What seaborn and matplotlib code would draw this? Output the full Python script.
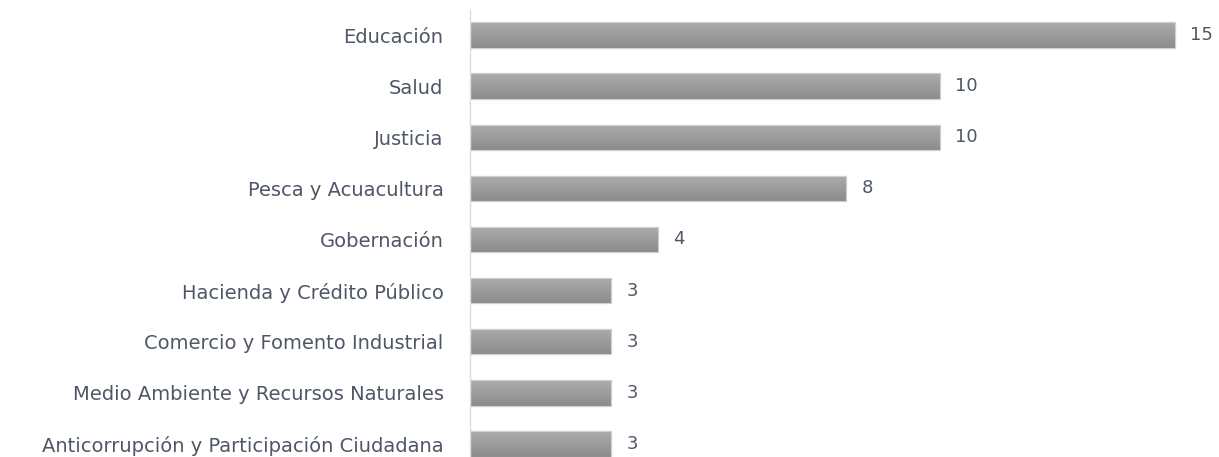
import numpy as np
import pandas as pd
import seaborn as sns
import matplotlib.pyplot as plt
from matplotlib.colors import LinearSegmentedColormap

categorias = ['Educación', 'Salud', 'Justicia', 'Pesca y Acuacultura', 'Gobernación',
              'Hacienda y Crédito Público', 'Comercio y Fomento Industrial',
              'Medio Ambiente y Recursos Naturales',
              'Anticorrupción y Participación Ciudadana']
valores = [15, 10, 10, 8, 4, 3, 3, 3, 3]

df = pd.DataFrame({'categoria': categorias, 'valor': valores})

sns.set_style('white')
plt.rcParams['font.family'] = ['DejaVu Sans']
texto = '#4f5766'

fig = plt.figure(figsize=(12.19, 4.57), dpi=100)
ax = fig.add_axes([470 / 1219, -12.5 / 457, 745 / 1219, 460 / 457])

sns.barplot(data=df, x='valor', y='categoria', orient='h', color='#9a9a9a',
            width=0.5, edgecolor='#c8c8c8', linewidth=0.8, ax=ax)

# degradado vertical en cada barra
cmap = LinearSegmentedColormap.from_list('gris', ['#acacac', '#8c8c8c'])
grad = np.linspace(0, 1, 64).reshape(-1, 1)
for p in ax.patches:
    x0, y0 = p.get_x(), p.get_y()
    w, h = p.get_width(), p.get_height()
    im = ax.imshow(grad, cmap=cmap, aspect='auto', extent=[x0, x0 + w, y0 + h, y0],
                   zorder=p.get_zorder() + 0.1)
    im.set_clip_path(p)
    ax.add_patch(plt.Rectangle((x0, y0), w, h, fill=False, edgecolor='#cfcfcf',
                               linewidth=0.8, zorder=p.get_zorder() + 0.2))

for i, v in enumerate(valores):
    ax.annotate(str(v), xy=(v, i), xytext=(11, 0), textcoords='offset points',
                va='center', ha='left', fontsize=13, color=texto, annotation_clip=False)

ax.set_xlim(0, 15.85)
ax.set_ylim(8.5, -0.5)
ax.set_xlabel('')
ax.set_ylabel('')
ax.set_xticks([])
ax.tick_params(axis='y', length=0, pad=19, labelsize=14, labelcolor=texto)
for s in ['top', 'right', 'bottom']:
    ax.spines[s].set_visible(False)
ax.spines['left'].set_color('#d9dde3')
ax.spines['left'].set_linewidth(1)

fig.savefig('out.png', dpi=100)
